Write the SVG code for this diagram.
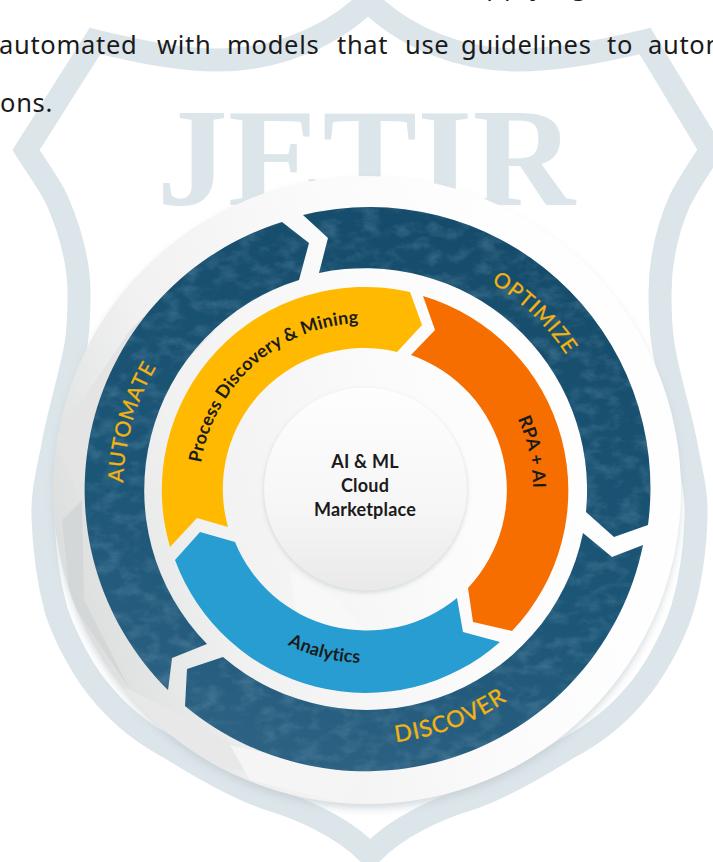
<svg xmlns="http://www.w3.org/2000/svg" width="713" height="862" viewBox="0 0 713 862">
<style>
.body{font-family:"Noto Sans","Open Sans","Liberation Sans",sans-serif;font-size:25.500px;letter-spacing:.7px;fill:#1a1a1a}
.lab{font-family:"Lato","Open Sans",sans-serif;font-weight:700;fill:#1b1b1b;font-size:18px;letter-spacing:.2px}
.ring{font-family:"Lato","Open Sans",sans-serif;font-weight:400;fill:#f5b30f;stroke:#f5b30f;stroke-width:.3px;font-size:21px;letter-spacing:1px}
.seg{filter:url(#brush)}
.seg path{fill:url(#teal)}
</style>
<defs>
<linearGradient id="teal" gradientUnits="userSpaceOnUse" x1="420" y1="220" x2="250" y2="760"><stop offset="0" stop-color="#164c6b"/><stop offset=".6" stop-color="#1c5677"/><stop offset="1" stop-color="#2d6283"/></linearGradient>
<linearGradient id="plate" gradientUnits="userSpaceOnUse" x1="60" y1="560" x2="560" y2="400"><stop offset="0" stop-color="#dcdede"/><stop offset=".28" stop-color="#f1f1f1"/><stop offset=".7" stop-color="#fbfbfb"/><stop offset="1" stop-color="#fefefe"/></linearGradient>
<linearGradient id="hub" x1="0" y1="0" x2="0" y2="1"><stop offset="0" stop-color="#fefefe"/><stop offset=".6" stop-color="#f6f6f6"/><stop offset="1" stop-color="#e9e9e9"/></linearGradient>
<filter id="soft" x="-20%" y="-20%" width="140%" height="140%"><feGaussianBlur stdDeviation="4"/></filter>
<filter id="soft2" x="-20%" y="-20%" width="140%" height="140%"><feGaussianBlur stdDeviation="2"/></filter>
<filter id="brush" x="0" y="0" width="100%" height="100%" color-interpolation-filters="sRGB">
<feTurbulence type="fractalNoise" baseFrequency="0.05 0.08" numOctaves="4" seed="7" result="n"/>
<feColorMatrix in="n" type="matrix" values="0 0 0 0 .45  0 0 0 0 .62  0 0 0 0 .72  0 0 0 .7 -.3" result="t"/>
<feComposite in="t" in2="SourceAlpha" operator="in" result="c"/>
<feMerge><feMergeNode in="SourceGraphic"/><feMergeNode in="c"/></feMerge>
</filter>
<path id="r242" d="M123,489A242,242 0 0 1 607,489"/>
<path id="r255b" d="M110,489A255,255 0 0 0 620,489"/>
<path id="r174b" d="M191,489A174,174 0 0 0 539,489"/>
<path id="r166" d="M199,489A166,166 0 0 1 531,489"/>
<path id="r168" d="M197,489A168,168 0 0 1 533,489"/>
<clipPath id="plateClip"><circle cx="367" cy="490" r="314"/></clipPath>
</defs>

<g id="watermark">
<path d="M95,41C140,52 180,60 218,60C275,60 330,38 368,1C406,38 460,60 518,60C556,60 600,52 645,41L711,150C696,172 688,185 680,200C667,230 660,260 660,293C660,315 661,335 664,350C670,385 681,415 687,450C692,475 697,495 696,517C695,550 691,580 682,610C672,640 653,675 633,697C613,720 593,735 568,748C533,770 498,790 466,800C443,807 398,825 370,855C342,825 295,807 272,800C240,790 205,770 170,748C145,735 125,720 105,697C85,675 66,640 56,610C48,580 44,550 43,517C42,495 47,475 52,450C58,415 68,385 75,350C78,335 79,315 79,293C79,260 70,230 57,200C50,185 40,172 26,150Z" fill="none" stroke="#dce5ea" stroke-width="23" stroke-linejoin="miter" stroke-miterlimit="6"/>
<text x="157" y="205" font-family="'Liberation Serif',serif" font-weight="700" font-size="139" fill="#dce5ea" textLength="418" lengthAdjust="spacingAndGlyphs">JETIR</text>
</g>

<g id="page-text">
<text class="body" y="-5" style="letter-spacing:2px"><tspan x="470">applying</tspan><tspan x="675">,</tspan></text>
<text class="body" y="54"><tspan x="-1">automated</tspan><tspan x="157">with</tspan><tspan x="227">models</tspan><tspan x="337">that</tspan><tspan x="405">use</tspan><tspan x="461">guidelines</tspan><tspan x="607">to</tspan><tspan x="648">auton</tspan></text>
<text class="body" x="0" y="112">ons.</text>
</g>

<g id="plate">
<circle cx="367" cy="495" r="313" fill="#bcc8ce" opacity=".7" filter="url(#soft)"/>
<circle cx="367" cy="490" r="314" fill="url(#plate)"/>
<g clip-path="url(#plateClip)">
<polygon points="55,440 130,330 170,290 215,330 112,440 82,500" fill="#e4e4e4"/>
<polygon points="62,520 82,500 84,600 130,690 70,600" fill="#d4d7d7"/>
<polygon points="130,690 190,720 280,770 200,770 100,680" fill="#e8e8e8"/>
<polygon points="230,745 360,775 340,802 250,780" fill="#f5f5f5"/>
<polygon points="290,570 340,600 380,650 300,640" fill="#f8f8f8"/>
</g>
</g>

<g id="optimize" class="seg"><path d="M303,215A281,281 0 0 1 648,525L614,537L586,512A222,222 0 0 0 319,273L328,238Z"/></g>
<g id="automate" class="seg"><path d="M168,690A281,281 0 0 1 282,222L309,243L299,280A220,220 0 0 0 207,644L172,658Z"/></g>
<g id="discover" class="seg"><path d="M643,545A283,283 0 0 1 185,706L187,669L223,657A221,221 0 0 0 583,533L612,557Z"/></g>
<g transform="rotate(-74 365 489)"><text class="ring" text-anchor="middle"><textPath href="#r242" startOffset="50%">AUTOMATE</textPath></text></g>
<g transform="rotate(44 365 489)"><text class="ring" text-anchor="middle"><textPath href="#r242" startOffset="50%">OPTIMIZE</textPath></text></g>
<g transform="rotate(-20.500 365 489)"><text class="ring" text-anchor="middle" style="font-size:23px"><textPath href="#r255b" startOffset="50%">DISCOVER</textPath></text></g>

<g id="process-discovery">
<path d="M170,547A203,203 0 0 1 410,292L422,325L397,352A141,141 0 0 0 228,527L197,518Z" fill="#ffb900"/>
<g transform="rotate(-41.600 365 489)"><text class="lab" text-anchor="middle"><textPath href="#r166" startOffset="50%">Process Discovery &amp; Mining</textPath></text></g>
</g>
<g id="rpa-ai">
<path d="M423,296A203,203 0 0 1 512,631L473,622L468,588A143,143 0 0 0 411,355L435,330Z" fill="#f76e00"/>
<g transform="rotate(77.500 365 489)"><text class="lab" text-anchor="middle"><textPath href="#r168" startOffset="50%">RPA + AI</textPath></text></g>
</g>
<g id="analytics">
<path d="M175,560A203,203 0 0 0 500,642L463,632L457,598A142,142 0 0 1 235,542L200,532Z" fill="#279dd1"/>
<g transform="rotate(14 365 489)"><text class="lab" text-anchor="middle"><textPath href="#r174b" startOffset="50%">Analytics</textPath></text></g>
</g>

<g id="hub-node">
<circle cx="365.500" cy="491" r="102" fill="#c9d2d2" opacity=".7" filter="url(#soft2)"/>
<circle cx="365.500" cy="489" r="101.500" fill="url(#hub)"/>
<text class="lab" text-anchor="middle" x="365" y="468">AI &amp; ML</text>
<text class="lab" text-anchor="middle" x="365" y="492">Cloud</text>
<text class="lab" text-anchor="middle" x="365" y="516">Marketplace</text>
</g>
</svg>
